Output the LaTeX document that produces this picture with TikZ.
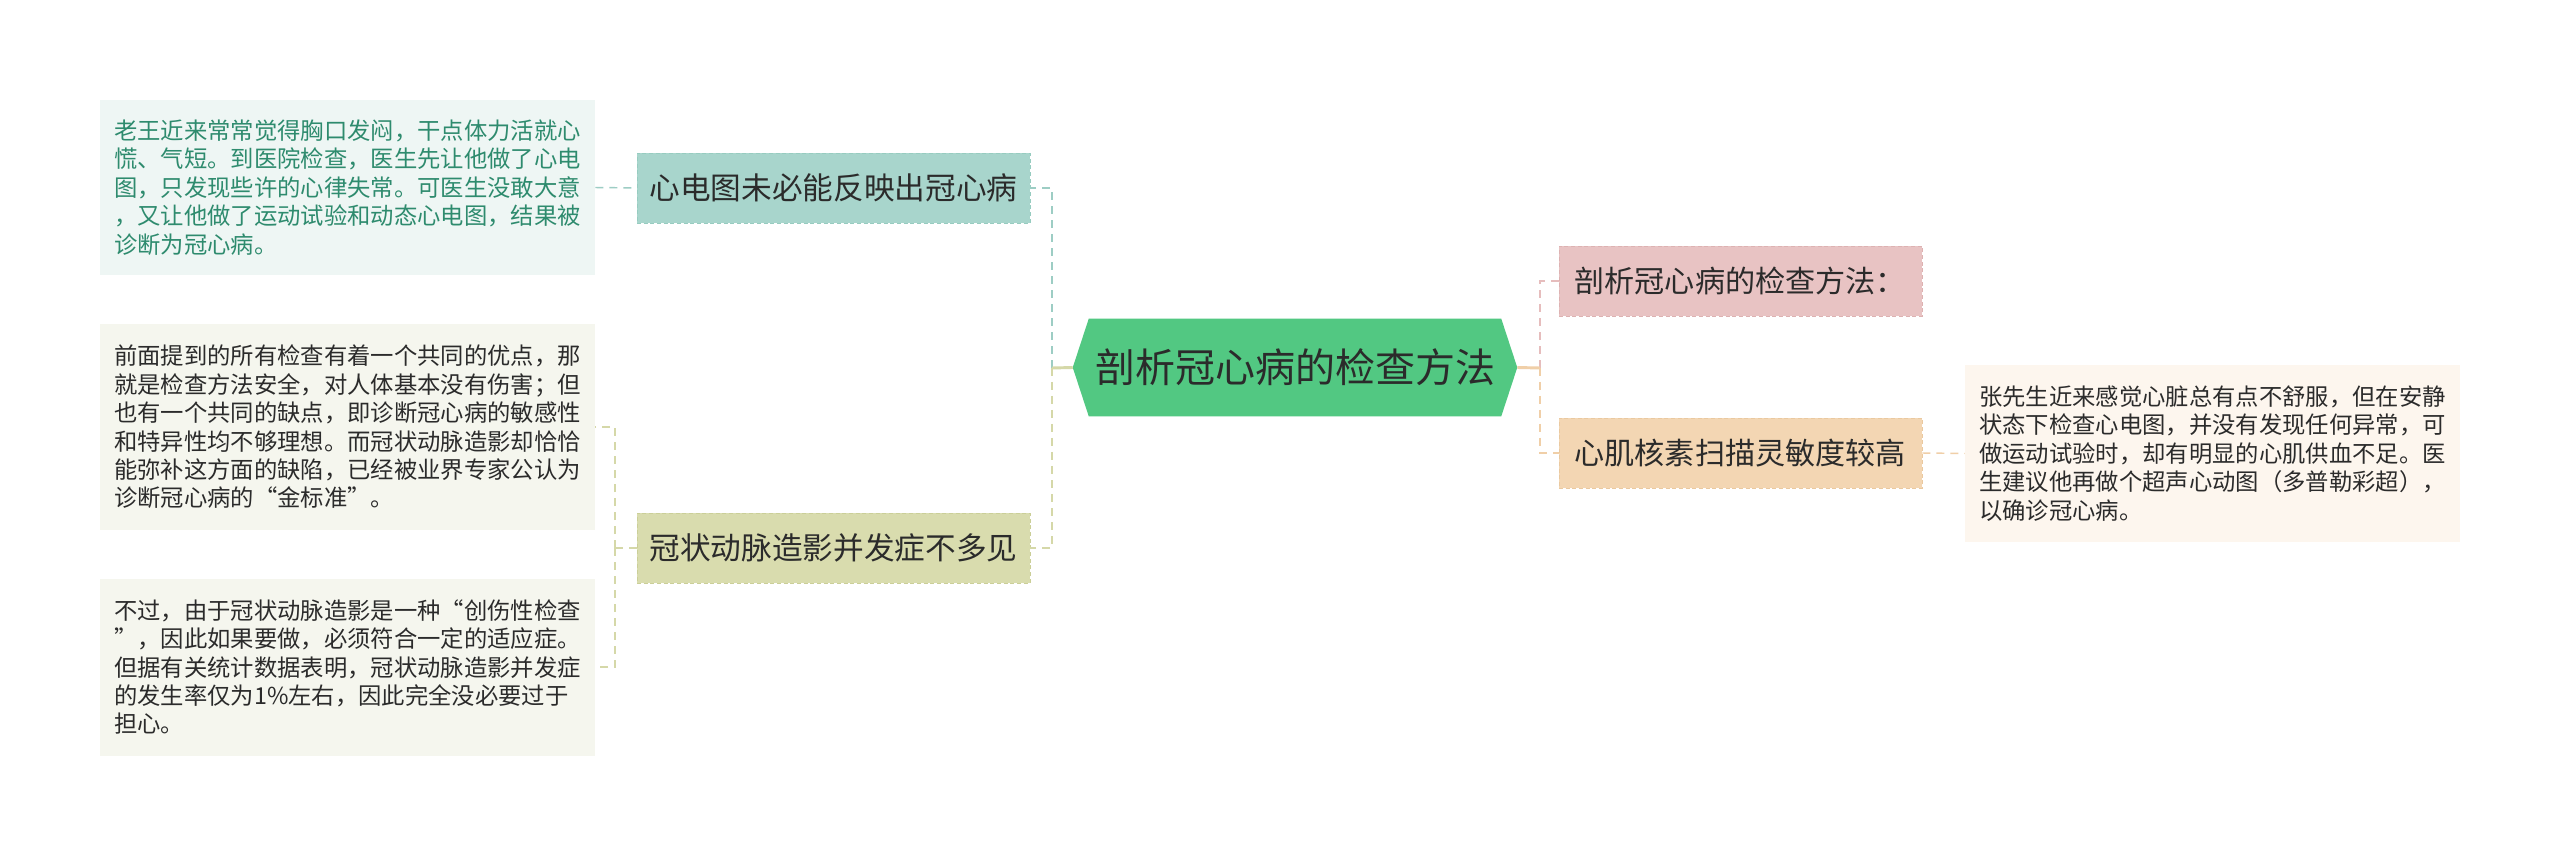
\documentclass[tikz,border=0pt]{standalone}
\usepackage{fontspec}
\setmainfont{Noto Sans CJK SC}
\definecolor{rootc}{HTML}{52C882}
\definecolor{tealc}{HTML}{A8D5CC}
\definecolor{tealb}{HTML}{97CCC0}
\definecolor{tealline}{HTML}{9DCDC4}
\definecolor{khakic}{HTML}{D9DCAE}
\definecolor{khakib}{HTML}{CBCF98}
\definecolor{khakiline}{HTML}{D5D8A8}
\definecolor{pinkc}{HTML}{E8C3C3}
\definecolor{pinkb}{HTML}{DDB2B2}
\definecolor{pinkline}{HTML}{E6BDBD}
\definecolor{peachc}{HTML}{F3D6B3}
\definecolor{peachb}{HTML}{EAC9A0}
\definecolor{peachline}{HTML}{F0CFA8}
\definecolor{leafA}{HTML}{EEF6F4}
\definecolor{leafB}{HTML}{F5F6EE}
\definecolor{leafC}{HTML}{FDF6EE}
\definecolor{leafAtext}{HTML}{2E8B6E}
\definecolor{txt}{HTML}{2B2B2B}
\tikzset{
  branchbox/.style={rectangle, line width=0.7pt, dash pattern=on 3pt off 2pt,
    minimum height=52.5pt, inner sep=0pt, text=txt, font=\fontsize{23}{27}\selectfont},
  rbranchbox/.style={rectangle, line width=0.7pt, dash pattern=on 3pt off 2pt,
    minimum height=52.5pt, text width=249pt, inner xsep=11.6pt, inner ysep=0pt, align=left,
    text=txt, font=\fontsize{22.6}{26}\selectfont},
  leafbox/.style={rectangle, minimum width=371.25pt, inner sep=0pt, align=left,
    text=txt, font=\fontsize{17.5}{21.3}\selectfont},
  conn/.style={line width=2.2pt, dash pattern=on 6pt off 4.5pt},
  leafconn/.style={line width=1.1pt, dash pattern=on 6pt off 4.5pt},
}
\begin{document}
\begin{tikzpicture}[x=0.75pt,y=-0.75pt]
\useasboundingbox[fill=white] (0,0) rectangle (2560,855);

% root
\node[rectangle, minimum width=333pt, minimum height=72.75pt, inner sep=0pt] (root) at (1295,367.5) {};
\fill[rootc] (root.west) -- ([xshift=12pt]root.north west) -- ([xshift=-12pt]root.north east)
  -- (root.east) -- ([xshift=-12pt]root.south east) -- ([xshift=12pt]root.south west) -- cycle;
\node[text=txt, font=\fontsize{30}{34}\selectfont] at (root.center) {剖析冠心病的检查方法};

% left branches
\node[branchbox, fill=tealc, draw=tealb, minimum width=294.75pt] (b1) at (833.5,188) {心电图未必能反映出冠心病};
\node[branchbox, fill=khakic, draw=khakib, minimum width=294.75pt] (b2) at (833.5,548) {冠状动脉造影并发症不多见};

% right branches
\node[rbranchbox, fill=pinkc, draw=pinkb] (rb1) at (1740.5,281) {剖析冠心病的检查方法：};
\node[rbranchbox, fill=peachc, draw=peachb] (rb2) at (1740.5,453) {心肌核素扫描灵敏度较高};

% leaves
\node[leafbox, fill=leafA, text=leafAtext, minimum height=131.25pt] (l1) at (347.5,187.5)
  {老王近来常常觉得胸口发闷，干点体力活就心\\慌、气短。到医院检查，医生先让他做了心电\\图，只发现些许的心律失常。可医生没敢大意\\，又让他做了运动试验和动态心电图，结果被\\诊断为冠心病。};
\node[leafbox, fill=leafB, minimum height=153.75pt] (l2) at (347.5,427)
  {前面提到的所有检查有着一个共同的优点，那\\就是检查方法安全，对人体基本没有伤害；但\\也有一个共同的缺点，即诊断冠心病的敏感性\\和特异性均不够理想。而冠状动脉造影却恰恰\\能弥补这方面的缺陷，已经被业界专家公认为\\诊断冠心病的“金标准”。};
\node[leafbox, fill=leafB, minimum height=132.75pt] (l3) at (347.5,667)
  {不过，由于冠状动脉造影是一种“创伤性检查\\”，因此如果要做，必须符合一定的适应症。\\但据有关统计数据表明，冠状动脉造影并发症\\的发生率仅为1\%左右，因此完全没必要过于\\担心。};
\node[leafbox, fill=leafC, minimum height=132.75pt] (rl) at (2212.5,453.5)
  {张先生近来感觉心脏总有点不舒服，但在安静\\状态下检查心电图，并没有发现任何异常，可\\做运动试验时，却有明显的心肌供血不足。医\\生建议他再做个超声心动图（多普勒彩超），\\以确诊冠心病。};

% connectors root-left
\coordinate (jl) at (1052,368);
\draw[conn, tealline] (jl) |- (b1.east);
\draw[conn, khakiline] (jl) |- (b2.east);
\draw[khakiline, line width=2.2pt] (root.west) -- (jl);
% connectors root-right
\coordinate (jr) at (1540,368);
\draw[conn, pinkline] (jr) |- (rb1.west);
\draw[conn, peachline] (jr) |- (rb2.west);
\draw[peachline, line width=2.2pt] (root.east) -- (jr);

% leaf connectors
\draw[leafconn, tealline] (l1.east) -- (b1.west);
\coordinate (ll) at (615,548);
\draw[leafconn, khakiline] (b2.west) -- (ll);
\draw[leafconn, khakiline] (ll) |- (l2.east);
\draw[leafconn, khakiline] (ll) |- (l3.east);
\draw[leafconn, peachline] (rb2.east) -- (rl.west);
\end{tikzpicture}
\end{document}
